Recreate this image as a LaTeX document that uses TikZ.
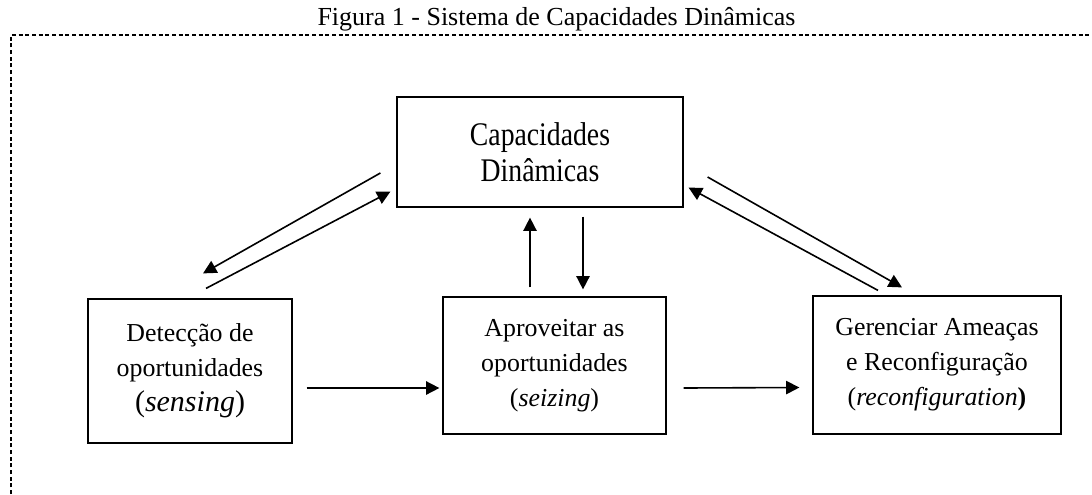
\documentclass[tikz,border=0pt]{standalone}
\usepackage{fontspec}
\setmainfont{Liberation Serif}
\newfontfamily\capfont[FakeStretch=0.84]{Liberation Serif}
\usepackage{tikz}
\usetikzlibrary{arrows.meta}

\tikzset{
  caixa/.style={draw, line width=0.9pt, align=center, inner sep=0pt,
    font=\fontsize{19.4}{26.3}\selectfont},
  seta/.style={-{Triangle[length=10pt,width=10pt]}, line width=1.2pt}
}

\begin{document}
\begin{tikzpicture}[x=0.75pt,y=-0.75pt]
\useasboundingbox (0,0) rectangle (1092,494);
\node[anchor=base, font=\fontsize{19.5}{24}\selectfont] (titulo) at (556.5,25) {Figura 1 - Sistema de Capacidades Din\^amicas};
\draw[line width=0.8pt, dash pattern=on 3pt off 2pt] (11,494) -- (11,35) -- (1092,35);

\node[caixa, minimum width=214.5pt, minimum height=82.5pt, font=\capfont\fontsize{24.75}{27}\selectfont] (cap) at (540,152) {Capacidades\\Din\^amicas};
\node[caixa, minimum width=153pt, minimum height=108pt] (sens) at (190,371) {Detecção de\\oportunidades\\{\fontsize{22.5}{26}\selectfont(\textit{sensing})}};
\node[caixa, minimum width=167.25pt, minimum height=102.75pt] (seiz) at (554.5,365.5) {Aproveitar as\\oportunidades\\(\textit{seizing})};
\node[caixa, minimum width=186pt, minimum height=103.5pt] (reconf) at (937,365) {Gerenciar Ameaças\\e Reconfiguração\\(\textit{reconfiguration}\textbf{)}};

% setas diagonais
\draw[seta] ([shift={(-16,21)}]cap.west) -- ([shift={(13,-25)}]sens.north);
\draw[seta] ([shift={(16,-10)}]sens.north) -- ([shift={(-6,-16)}]cap.south west);
\draw[seta] ([shift={(24,25)}]cap.east) -- ([shift={(-35,-8)}]reconf.north);
\draw[seta] ([shift={(-59,-5)}]reconf.north) -- ([shift={(5,-20)}]cap.south east);
% setas verticais
\draw[seta] ([shift={(-24.5,-9)}]seiz.north) -- ([shift={(-10,10)}]cap.south);
\draw[seta] ([shift={(43,9)}]cap.south) -- ([shift={(28.5,-7)}]seiz.north);
% setas horizontais
\draw[seta] ([shift={(14,17)}]sens.east) -- ([shift={(-3,22.5)}]seiz.west);
\draw[seta] ([shift={(17,22.5)}]seiz.east) -- ([shift={(-13,22.5)}]reconf.west);
\end{tikzpicture}
\end{document}
